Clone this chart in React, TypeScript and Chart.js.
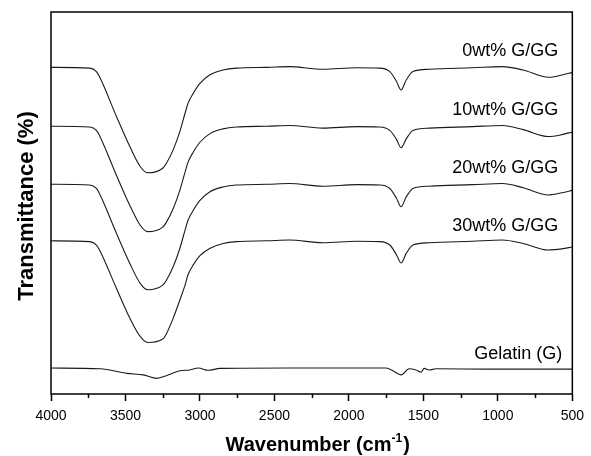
import React, { useEffect, useRef } from "react";
import { Chart, registerables } from "chart.js";

Chart.register(...registerables);

// Wavenumbers (cm-1) sampled for the four composite films
const WAVENUMBERS = [4000, 3740, 3695, 3670, 3560, 3470, 3400, 3350, 3250, 3225, 3180, 3135, 3100, 3080, 3045, 3000, 2935, 2845, 2755, 2550, 2400, 2175, 1950, 1795, 1725, 1680, 1650, 1615, 1570, 1460, 1170, 970, 830, 660, 570, 500];

// Transmittance (offset, arbitrary %)
const GG0 = [85.5, 85.3, 84.4, 82.7, 72.6, 64.7, 59.5, 57.9, 59.1, 60.4, 63.9, 68.7, 73.5, 76.1, 78.7, 81.3, 83.5, 84.8, 85.3, 85.5, 85.7, 85.0, 85.4, 85.3, 84.4, 81.8, 79.6, 82.2, 84.4, 85.0, 85.4, 85.7, 84.8, 82.9, 83.5, 84.2];
const GG10 = [70.1, 69.9, 69.0, 67.3, 57.2, 49.3, 44.1, 42.5, 43.7, 45.0, 48.5, 53.3, 58.1, 60.7, 63.3, 65.9, 68.1, 69.4, 69.9, 70.1, 70.3, 69.6, 70.0, 69.9, 69.0, 66.6, 64.5, 66.8, 69.0, 69.6, 70.0, 70.3, 69.2, 67.4, 67.9, 68.6];
const GG20 = [54.9, 54.7, 53.8, 52.1, 42.0, 34.1, 28.9, 27.3, 28.5, 29.8, 33.3, 38.1, 42.9, 45.5, 48.1, 50.7, 52.9, 54.2, 54.7, 54.9, 55.1, 54.4, 54.8, 54.7, 53.8, 51.2, 49.0, 51.6, 53.8, 54.4, 54.8, 55.1, 54.0, 52.1, 52.7, 53.3];
const GG30 = [40.1, 39.9, 39.0, 37.4, 27.6, 19.8, 15.0, 13.5, 14.4, 15.8, 19.8, 24.6, 28.5, 31.2, 33.8, 36.2, 38.1, 39.4, 39.9, 40.1, 40.3, 39.6, 40.0, 39.9, 39.0, 36.4, 34.3, 36.8, 39.0, 39.6, 40.0, 40.3, 39.4, 37.7, 38.0, 38.5];

// Gelatin spectrum
const GELATIN_WN = [4000, 3670, 3490, 3380, 3290, 3225, 3135, 3070, 3010, 2945, 2865, 2400, 1750, 1705, 1650, 1595, 1550, 1515, 1495, 1460, 1415, 1060, 500];
const GELATIN = [6.8, 6.6, 5.4, 5.0, 4.1, 4.8, 6.1, 6.3, 6.8, 6.2, 6.7, 6.8, 6.8, 6.1, 5.0, 6.6, 6.3, 5.7, 6.7, 6.3, 6.6, 6.5, 6.5];

// Curve labels and their anchor (wavenumber, transmittance)
const LABELS = ["0wt% G/GG", "10wt% G/GG", "20wt% G/GG", "30wt% G/GG", "Gelatin (G)"];
const LABEL_X = [594, 594, 594, 594, 567];
const LABEL_Y = [88.5, 73.0, 57.9, 42.7, 9.2];

const MINOR_TICKS = [3750, 3250, 2750, 2250, 1750, 1250, 750];

const X_TITLE = "Wavenumber (cm";
const X_TITLE_SUP = "-1";
const X_TITLE_END = ")";
const Y_TITLE = "Transmittance (%)";

const FONT = '"Liberation Sans", Arial, Helvetica, sans-serif';

const toPoints = (xs: number[], ys: number[]) => xs.map((x, i) => ({ x, y: ys[i] }));

const decorPlugin = {
  id: "decor",
  afterDraw(chart: any) {
    const { ctx, chartArea: a, scales } = chart;
    const xs = scales.x;
    const ys = scales.y;
    ctx.save();
    ctx.strokeStyle = "#000";
    ctx.lineWidth = 1.5;
    ctx.strokeRect(a.left, a.top, a.right - a.left, a.bottom - a.top);
    MINOR_TICKS.forEach((v) => {
      const px = Math.round(xs.getPixelForValue(v)) + 0.5;
      ctx.beginPath();
      ctx.moveTo(px, a.bottom);
      ctx.lineTo(px, a.bottom + 4);
      ctx.stroke();
    });
    ctx.fillStyle = "#000";
    ctx.font = `18px ${FONT}`;
    ctx.textAlign = "right";
    ctx.textBaseline = "alphabetic";
    LABELS.forEach((t, i) => {
      ctx.fillText(t, xs.getPixelForValue(LABEL_X[i]), ys.getPixelForValue(LABEL_Y[i]));
    });
    // y title
    ctx.save();
    ctx.translate(33, (a.top + a.bottom) / 2 + 3);
    ctx.rotate(-Math.PI / 2);
    ctx.textAlign = "center";
    ctx.font = `bold 22px ${FONT}`;
    ctx.fillText(Y_TITLE, 0, 0);
    ctx.restore();
    // x title with superscript
    ctx.textAlign = "left";
    ctx.font = `bold 20px ${FONT}`;
    const w1 = ctx.measureText(X_TITLE).width;
    const w3 = ctx.measureText(X_TITLE_END).width;
    ctx.font = `bold 12px ${FONT}`;
    const w2 = ctx.measureText(X_TITLE_SUP).width;
    const total = w1 + w2 + w3 + 1;
    const cx = (a.left + a.right) / 2 + 6;
    const by = a.bottom + 57;
    const x0 = cx - total / 2;
    ctx.font = `bold 20px ${FONT}`;
    ctx.fillText(X_TITLE, x0, by);
    ctx.font = `bold 12px ${FONT}`;
    ctx.fillText(X_TITLE_SUP, x0 + w1, by - 9);
    ctx.font = `bold 20px ${FONT}`;
    ctx.fillText(X_TITLE_END, x0 + w1 + w2 + 1, by);
    ctx.restore();
  },
};

export default function App() {
  const ref = useRef<HTMLCanvasElement | null>(null);
  useEffect(() => {
    if (!ref.current) return;
    const lineStyle = {
      borderColor: "#1a1a1a",
      borderWidth: 1.1,
      pointRadius: 0,
      fill: false,
      cubicInterpolationMode: "monotone" as const,
    };
    const chart = new Chart(ref.current, {
      type: "line",
      data: {
        datasets: [
          { label: LABELS[0], data: toPoints(WAVENUMBERS, GG0), ...lineStyle },
          { label: LABELS[1], data: toPoints(WAVENUMBERS, GG10), ...lineStyle },
          { label: LABELS[2], data: toPoints(WAVENUMBERS, GG20), ...lineStyle },
          { label: LABELS[3], data: toPoints(WAVENUMBERS, GG30), ...lineStyle },
          { label: LABELS[4], data: toPoints(GELATIN_WN, GELATIN), ...lineStyle },
        ],
      },
      options: {
        animation: false,
        responsive: false,
        maintainAspectRatio: false,
        layout: { padding: { left: 51, top: 12, right: 18, bottom: 0 } },
        plugins: { legend: { display: false }, tooltip: { enabled: false } },
        scales: {
          x: {
            type: "linear",
            reverse: true,
            min: 500,
            max: 4000,
            border: { display: false },
            grid: { drawOnChartArea: false, drawTicks: true, tickLength: 7, color: "#000", tickWidth: 1.5 },
            ticks: {
              stepSize: 500,
              color: "#000",
              padding: 7,
              font: { family: FONT, size: 14 },
              maxRotation: 0,
              autoSkip: false,
              callback: (v: any) => String(v),
            },
            afterFit: (s: any) => {
              s.height = 62;
            },
          },
          y: {
            display: false,
            min: 0,
            max: 100,
          },
        },
      },
      plugins: [decorPlugin],
    });
    return () => chart.destroy();
  }, []);
  return (
    <div style={{ position: "absolute", left: 0, top: 0, width: 591, height: 456, background: "#fff" }}>
      <canvas ref={ref} width={591} height={456} style={{ width: 591, height: 456, display: "block" }} />
    </div>
  );
}
